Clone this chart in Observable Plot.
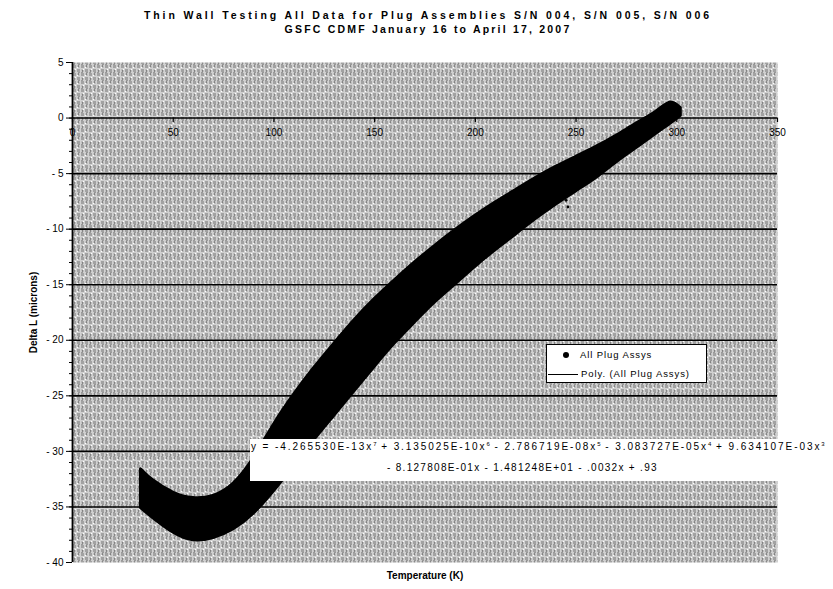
<!DOCTYPE html>
<html>
<head>
<meta charset="utf-8">
<script src="https://cdn.jsdelivr.net/npm/d3@7"></script>
<script src="https://cdn.jsdelivr.net/npm/@observablehq/plot@0.6"></script>
<style>
  body { margin: 0; background: #fff; font-family: "Liberation Sans", Arial, sans-serif; color: #000; }
  #wrap { position: relative; width: 833px; height: 589px; overflow: hidden; background: #fff; }
  #title { height: 40px; box-sizing: border-box; padding-top: 8px; width: 856px; text-align: center;
           font-weight: bold; font-size: 10.5px; line-height: 14px; }
  #title .l1 { letter-spacing: 2.9px; }
  #title .l2 { letter-spacing: 2.2px; }
  #legend { position: absolute; left: 546px; top: 344px; width: 161px; height: 39px; box-sizing: border-box;
            background: #fff; border: 1px solid #000; font-size: 9.5px; letter-spacing: 0.9px; }
  #legend .row { position: absolute; left: 0; height: 14px; line-height: 14px; white-space: nowrap; }
  #legend .dot { position: absolute; left: 16px; top: 4px; width: 6px; height: 6px; border-radius: 50%; background: #000; }
  #legend .ln { position: absolute; left: 1px; top: 7px; width: 30px; border-top: 1px solid #000; }
  #eq { position: absolute; left: 250px; top: 439px; width: 580px; height: 42px; box-sizing: border-box;
        background: #fff; font-size: 10px; white-space: nowrap; }
  #eq .e1 { letter-spacing: 1.92px; }
  #eq .e2 { letter-spacing: 1.3px; }
  #eq sup { font-size: 6px; vertical-align: 4px; line-height: 0; letter-spacing: 0; }
</style>
</head>
<body>
<div id="wrap">
  <div id="title"><span class="l1">Thin Wall Testing All Data for Plug Assemblies S/N 004, S/N 005, S/N 006</span><br><span class="l2">GSFC CDMF January 16 to April 17, 2007</span></div>
  <div id="chart"></div>
  <div id="legend">
    <div class="row" style="top:3px;width:100%"><span class="dot"></span><span style="position:absolute;left:33px">All Plug Assys</span></div>
    <div class="row" style="top:22px;width:100%"><span class="ln"></span><span style="position:absolute;left:34px">Poly. (All Plug Assys)</span></div>
  </div>
  <div id="eq">
    <div class="e1" style="position:absolute;left:1px;top:2px;">y = -4.265530E-13x<sup>7</sup> + 3.135025E-10x<sup>6</sup> - 2.786719E-08x<sup>5</sup> - 3.083727E-05x<sup>4</sup> + 9.634107E-03x<sup>3</sup></div>
    <div class="e2" style="position:absolute;left:137px;top:23px;">- 8.127808E-01x - 1.481248E+01 - .0032x + .93</div>
  </div>
</div>
<script>
// Temperature samples (K) along the measured band
const temps = [34, 40, 50, 60, 70, 80, 90, 100, 110, 120, 130, 140, 150, 160, 170, 180, 190, 200, 210, 220, 230, 240, 250, 260, 270, 280, 290, 297, 302];
// Upper envelope of the plotted data cloud (Delta L, microns)
const upperL = [-31.6, -32.6, -33.7, -34.2, -34.0, -32.9, -30.6, -27.6, -24.9, -22.5, -20.3, -18.2, -16.3, -14.6, -13.0, -11.5, -10.1, -8.8, -7.6, -6.5, -5.4, -4.4, -3.5, -2.6, -1.6, -0.5, 0.6, 1.4, 0.9];
// Lower envelope of the plotted data cloud (Delta L, microns)
const lowerL = [-35.1, -36.0, -37.3, -38.0, -37.8, -37.0, -35.6, -33.6, -31.3, -29.0, -26.8, -24.6, -22.4, -20.3, -18.4, -16.6, -15.0, -13.4, -11.9, -10.5, -9.1, -7.8, -6.6, -5.4, -4.0, -2.7, -1.4, -0.5, 0.2];
// A few stray points below the band
const strayT = [245, 246];
const strayL = [-7.4, -8.0];
// Axis ticks
const xTicks = [0, 50, 100, 150, 200, 250, 300, 350];
const yTicks = [5, 0, -5, -10, -15, -20, -25, -30, -35, -40];
const gridY = [0, -5, -10, -15, -20, -25, -30, -35];
const minorY = d3.range(-40, 5.5, 1);

const band = temps.map((t, i) => ({t, lo: lowerL[i], hi: upperL[i]}));
const strays = strayT.map((t, i) => ({t, l: strayL[i]}));
const fmt = d => d < 0 ? "- " + (-d) : String(d);

const chart = Plot.plot({
  width: 833, height: 549,
  marginLeft: 72, marginRight: 56, marginTop: 22, marginBottom: 27,
  x: {domain: [0, 350], axis: null},
  y: {domain: [-40, 5]},
  style: {fontFamily: "'Liberation Sans', Arial, sans-serif", fontSize: "10px", color: "#000", background: "#fff"},
  marks: [
    Plot.frame({fill: "url(#hatch)", stroke: "none"}),
    Plot.ruleY(gridY, {stroke: "#000", strokeWidth: 1.6}),
    Plot.areaY(band, {x: "t", y1: "lo", y2: "hi", fill: "#000", stroke: "#000", strokeWidth: 3, strokeLinejoin: "round", curve: "natural"}),
    Plot.dot(strays, {x: "t", y: "l", r: 1.4, fill: "#000"}),
    Plot.ruleX([0], {stroke: "#000", strokeWidth: 1.8}),
    Plot.axisY({ticks: minorY, tickSize: 3, tickFormat: () => "", label: null, strokeWidth: 1}),
    Plot.axisY({ticks: yTicks, tickSize: 6, tickPadding: 3, tickFormat: fmt, label: null, fontSize: 10}),
    Plot.ruleX(xTicks, {x: d => d, y1: 0, y2: -0.4, stroke: "#000", strokeWidth: 1.2}),
    Plot.text(xTicks, {x: d => d, y: 0, dy: 15, text: d => String(d), fontSize: 10}),
    Plot.text(["Temperature (K)"], {frameAnchor: "bottom", dy: 16, fontSize: 10, fontWeight: "bold", letterSpacing: 1.8}),
    Plot.text(["Delta L (microns)"], {frameAnchor: "left", textAnchor: "middle", rotate: -90, dx: -39, fontSize: 10, fontWeight: "bold", letterSpacing: 1.5})
  ]
});

// hatch pattern resembling the scanned Excel pattern fill
const ns = "http://www.w3.org/2000/svg";
const defs = document.createElementNS(ns, "defs");
defs.innerHTML = `<pattern id="hatch" width="8" height="8" patternUnits="userSpaceOnUse">
  <rect width="8" height="8" fill="#fff"/>
  <rect x="0" y="0" width="4" height="4" fill="#a2a2a2"/>
  <rect x="4" y="4" width="4" height="4" fill="#a2a2a2"/>
  <rect x="5" y="1" width="1" height="1" fill="#000"/>
  <rect x="6" y="2" width="1" height="1" fill="#000"/>
  <rect x="6" y="0" width="1" height="1" fill="#222"/>
  <rect x="1" y="5" width="1" height="1" fill="#000"/>
  <rect x="2" y="6" width="1" height="1" fill="#000"/>
  <rect x="1" y="7" width="1" height="1" fill="#222"/>
</pattern>`;
chart.insertBefore(defs, chart.firstChild);
document.getElementById("chart").appendChild(chart);
</script>
</body>
</html>
